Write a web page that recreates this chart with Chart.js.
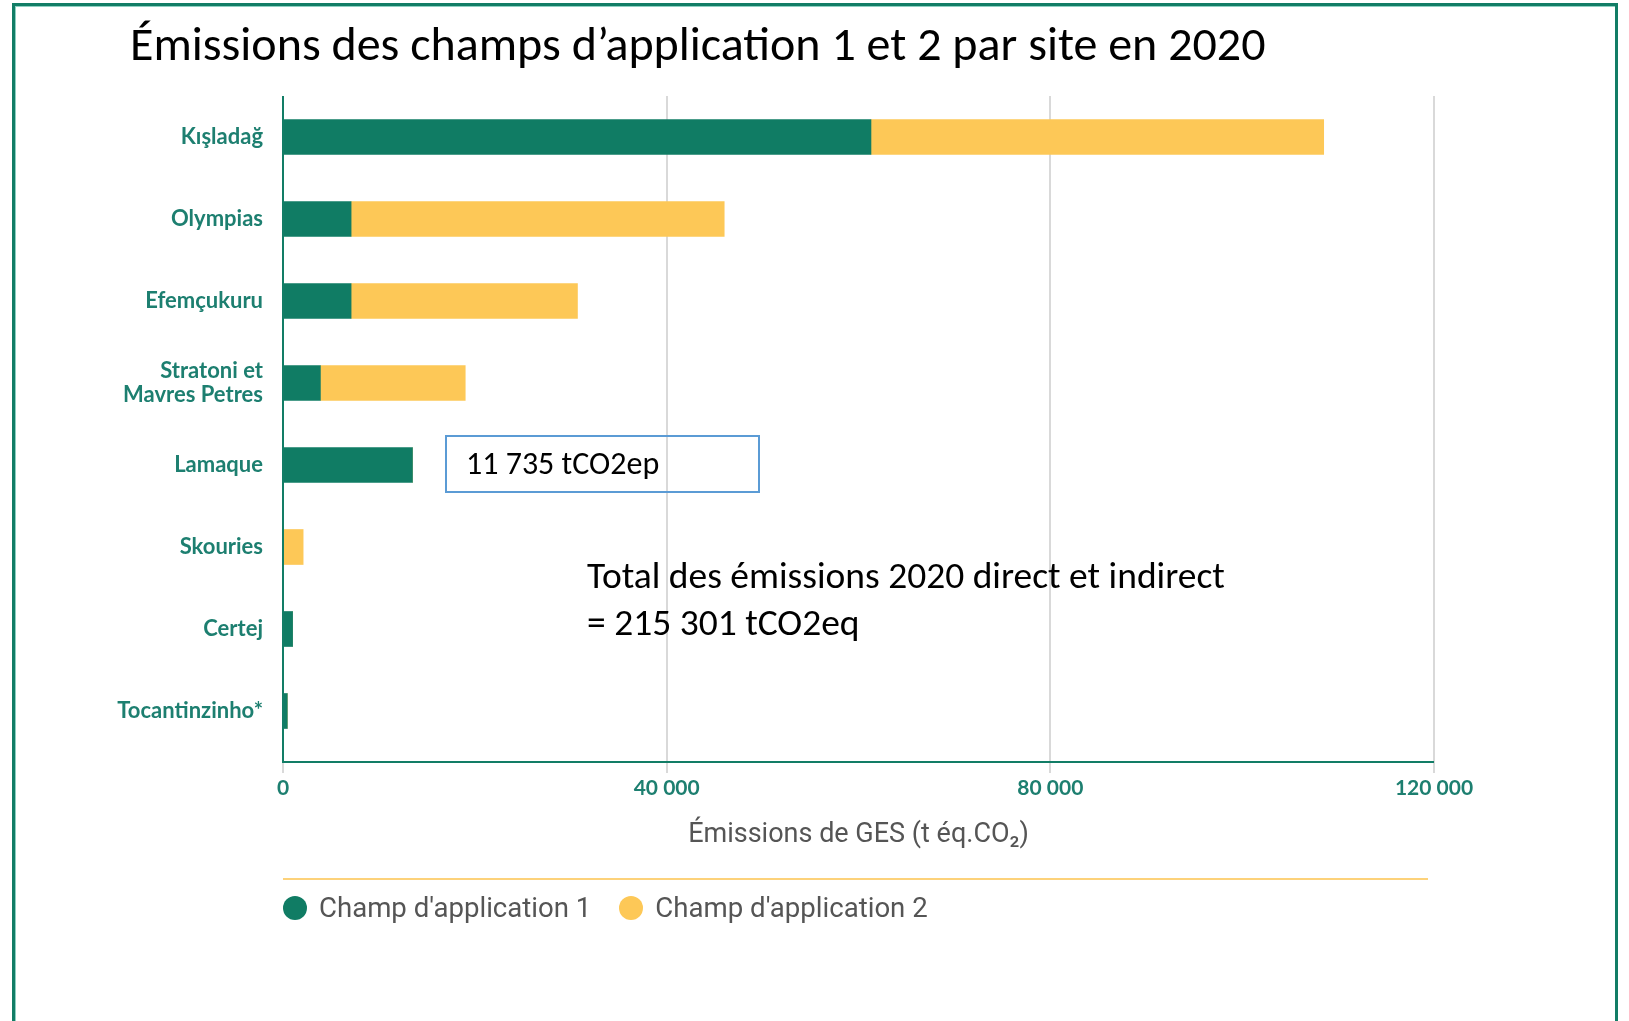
<!DOCTYPE HTML>
<html>
<head>
	<meta charset="utf-8">
	<title>Émissions des champs d'application 1 et 2 par site en 2020</title>
	<script src="https://cdn.jsdelivr.net/npm/chart.js@4.4.1/dist/chart.umd.min.js"></script>
	<style>
		html, body { margin: 0; padding: 0; background: #fff; }
		#page { position: relative; width: 1629px; height: 1021px; overflow: hidden; }
		#frame { position: absolute; left: 12px; top: 3px; width: 1600px; height: 1040px; border: 3px solid #127d66; border-bottom: none; box-shadow: inset 1px 1px 0 #8fd0c2; }
		#chart { position: absolute; left: 0; top: 0; }
		.cal { font-family: Calibri, Carlito, Lato, sans-serif; color: #000; position: absolute; white-space: nowrap; }
		#title { left: 130px; top: 15px; font-size: 48px; line-height: 58px; }
		#note { left: 445px; top: 435px; width: 315px; height: 58px; box-sizing: border-box; border: 2px solid #5b9bd5; font-size: 32px; line-height: 54px; padding-left: 19px; }
		#total { left: 587px; top: 552px; font-size: 37.5px; line-height: 47px; }
		#legend { position: absolute; left: 283px; top: 878px; width: 1145px; border-top: 2px solid #fdd27a; padding-top: 11px; font-family: Roboto, sans-serif; font-size: 27.6px; color: #555; display: flex; }
		#legend span.item { display: flex; align-items: center; margin-right: 28px; }
		#legend span.dot { width: 24px; height: 24px; border-radius: 50%; margin-right: 12px; }
	</style>
</head>
<body>
<div id="page">
	<div id="frame"></div>
	<canvas id="chart" width="1629" height="1021"></canvas>
	<div id="title" class="cal">Émissions des champs d’application 1 et 2 par site en 2020</div>
	<div id="note" class="cal">11 735 tCO2ep</div>
	<div id="total" class="cal">Total des émissions 2020 direct et indirect<br>= 215 301 tCO2eq</div>
	<div id="legend"></div>
</div>
<script>
var sites = ["Kışladağ", "Olympias", "Efemçukuru", ["Stratoni et", "Mavres Petres"], "Lamaque", "Skouries", "Certej", "Tocantinzinho*"];
var scope1 = [61300, 7100, 7100, 3900, 13500, 0, 1000, 450];
var scope2 = [47200, 38900, 23600, 15100, 0, 2100, 0, 0];
var seriesNames = ["Champ d'application 1", "Champ d'application 2"];
var seriesColors = ["#107c64", "#fdc857"];
var xTicks = [0, 40000, 80000, 120000];
var xTitle = "Émissions de GES (t éq.CO₂)";

var green = "#127d66";
var teal = "#1d7f70";

// bottom axis line sits a little below the last bar row
var axisLines = {
	id: "axisLines",
	afterDraw: function(chart) {
		var ctx = chart.ctx, a = chart.chartArea;
		ctx.save();
		ctx.strokeStyle = green;
		ctx.lineWidth = 2;
		ctx.beginPath();
		ctx.moveTo(a.left, a.top);
		ctx.lineTo(a.left, a.bottom + 10);
		ctx.lineTo(a.right, a.bottom + 10);
		ctx.stroke();
		ctx.restore();
	}
};

new Chart(document.getElementById("chart"), {
	type: "bar",
	data: {
		labels: sites,
		datasets: [
			{label: seriesNames[0], data: scope1, backgroundColor: seriesColors[0], barThickness: 35},
			{label: seriesNames[1], data: scope2, backgroundColor: seriesColors[1], barThickness: 35}
		]
	},
	options: {
		indexAxis: "y",
		responsive: false,
		animation: false,
		layout: {padding: {left: 0, top: 96, right: 195, bottom: 0}},
		plugins: {legend: {display: false}, tooltip: {enabled: false}},
		scales: {
			x: {
				stacked: true,
				min: 0,
				max: 120000,
				afterBuildTicks: function(scale) {
					scale.ticks = xTicks.map(function(v) { return {value: v}; });
				},
				afterFit: function(scale) { scale.height = 1021 - 752; },
				grid: {color: "#d9d9d9", lineWidth: 2, tickLength: 21, drawTicks: true},
				border: {display: false},
				ticks: {
					color: teal,
					padding: 3,
					font: {family: "Lato", weight: "bold", size: 21},
					callback: function(v) { return v >= 1000 ? (v / 1000) + " 000" : String(v); }
				},
				title: {
					display: true,
					text: xTitle,
					color: "#555",
					font: {family: "Roboto", size: 27},
					padding: {top: 0, bottom: 170}
				}
			},
			y: {
				stacked: true,
				afterFit: function(scale) { scale.width = 283; },
				grid: {display: false, drawTicks: false},
				border: {display: false},
				ticks: {
					color: teal,
					padding: 20,
					font: {family: "Lato", weight: "bold", size: 22, lineHeight: 1.1}
				}
			}
		}
	},
	plugins: [axisLines]
});

var legend = document.getElementById("legend");
seriesNames.forEach(function(name, i) {
	var item = document.createElement("span");
	item.className = "item";
	var dot = document.createElement("span");
	dot.className = "dot";
	dot.style.background = seriesColors[i];
	item.appendChild(dot);
	item.appendChild(document.createTextNode(name));
	legend.appendChild(item);
});
</script>
</body>
</html>
